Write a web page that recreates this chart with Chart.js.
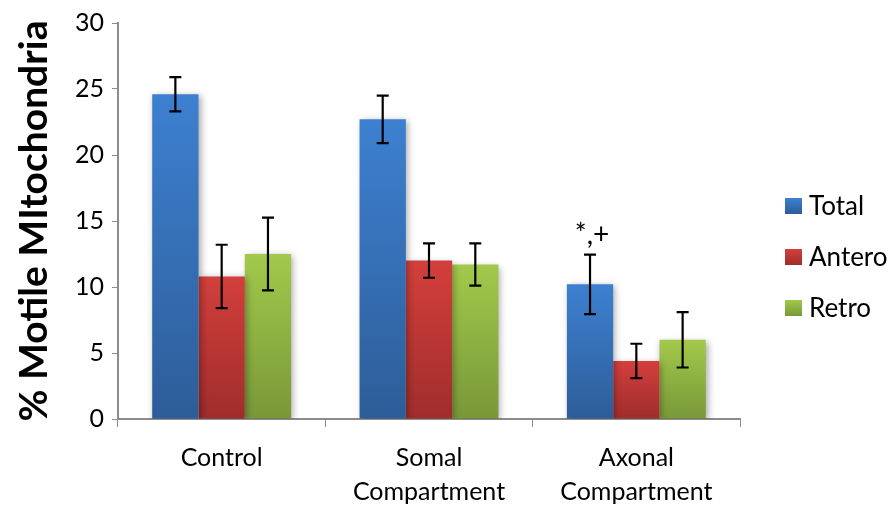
<!DOCTYPE html>
<html>
<head>
<meta charset="utf-8">
<script src="https://cdn.jsdelivr.net/npm/chart.js@4.4.1/dist/chart.umd.min.js"></script>
<style>
  html, body { margin: 0; padding: 0; background: #fff; }
  #wrap { width: 896px; height: 516px; position: relative; }
</style>
</head>
<body>
<div id="wrap"><canvas id="c"></canvas></div>
<script>
// Categories (multi-line tick labels)
const categories = [['Control'], ['Somal', 'Compartment'], ['Axonal', 'Compartment']];
const seriesNames = ['Total', 'Antero', 'Retro'];

// Mean percentage of motile mitochondria
const totalValues  = [24.6, 22.7, 10.2];
const anteroValues = [10.8, 12.0, 4.4];
const retroValues  = [12.5, 11.7, 6.0];

// Error bar half-widths
const totalErrors  = [1.3, 1.8, 2.25];
const anteroErrors = [2.4, 1.3, 1.3];
const retroErrors  = [2.75, 1.6, 2.1];

// Y axis ticks
const yTicks = [0, 5, 10, 15, 20, 25, 30];

// Significance mark over the axonal total bar
const markText = '*,+';
const markCategory = 2;
const markSeries = 0;

const FONT = 'Lato, "Open Sans", sans-serif';

// Gradient colours per series (top, bottom)
const palette = [
  ['#3d80d0', '#2d5d98'],
  ['#d33f3c', '#9f2d2b'],
  ['#a2c94b', '#789838']
];

function barGradient(ctx, seriesIdx) {
  const chart = ctx.chart;
  const area = chart.chartArea;
  const cols = palette[seriesIdx];
  if (!area || ctx.type !== 'data') return cols[0];
  const y = chart.scales.y;
  const top = y.getPixelForValue(ctx.raw);
  const bottom = y.getPixelForValue(0);
  const g = chart.ctx.createLinearGradient(0, top, 0, bottom);
  g.addColorStop(0, cols[0]);
  g.addColorStop(1, cols[1]);
  return g;
}

const errorSets = [totalErrors, anteroErrors, retroErrors];

// Soft drop shadow behind bars
const shadowPlugin = {
  id: 'barShadow',
  beforeDatasetsDraw(chart) {
    const c = chart.ctx;
    c.save();
    c.shadowColor = 'rgba(0,0,0,0.35)';
    c.shadowBlur = 7;
    c.shadowOffsetX = 2;
    c.shadowOffsetY = 2;
  },
  afterDatasetsDraw(chart) {
    chart.ctx.restore();
  }
};

// Error bars and the significance mark
const errorBarPlugin = {
  id: 'errorBars',
  afterDatasetsDraw(chart) {
    const c = chart.ctx;
    const y = chart.scales.y;
    c.save();
    c.strokeStyle = '#000';
    c.lineWidth = 2.2;
    chart.data.datasets.forEach((ds, di) => {
      const meta = chart.getDatasetMeta(di);
      meta.data.forEach((bar, i) => {
        const v = ds.data[i];
        const e = errorSets[di][i];
        const x = bar.x;
        const yHi = y.getPixelForValue(v + e);
        const yLo = y.getPixelForValue(v - e);
        const cap = 6;
        c.beginPath();
        c.moveTo(x, yHi); c.lineTo(x, yLo);
        c.moveTo(x - cap, yHi); c.lineTo(x + cap, yHi);
        c.moveTo(x - cap, yLo); c.lineTo(x + cap, yLo);
        c.stroke();
      });
    });
    // significance mark
    const bar = chart.getDatasetMeta(markSeries).data[markCategory];
    const topVal = chart.data.datasets[markSeries].data[markCategory] + errorSets[markSeries][markCategory];
    c.fillStyle = '#000';
    c.font = '28px ' + FONT;
    c.textAlign = 'center';
    c.textBaseline = 'bottom';
    c.fillText(markText, bar.x + 2, y.getPixelForValue(topVal) - 6);
    c.restore();
  }
};

// Legend on the right
const legendPlugin = {
  id: 'sideLegend',
  afterDraw(chart) {
    const c = chart.ctx;
    const x0 = 785;
    const yStart = 206;
    const step = 51;
    c.save();
    c.font = '26px ' + FONT;
    c.textBaseline = 'middle';
    c.textAlign = 'left';
    chart.data.datasets.forEach((ds, i) => {
      const cy = yStart + i * step;
      const g = c.createLinearGradient(0, cy - 8, 0, cy + 8);
      g.addColorStop(0, palette[i][0]);
      g.addColorStop(1, palette[i][1]);
      c.fillStyle = g;
      c.fillRect(x0, cy - 8, 17, 16);
      c.fillStyle = '#000';
      c.fillText(ds.label, x0 + 24, cy + 1);
    });
    c.restore();
  }
};

const seriesData = [totalValues, anteroValues, retroValues];

new Chart(document.getElementById('c'), {
  type: 'bar',
  data: {
    labels: categories,
    datasets: seriesData.map((d, i) => ({
      label: seriesNames[i],
      data: d,
      backgroundColor: (ctx) => barGradient(ctx, i),
      borderWidth: 0,
      categoryPercentage: 0.67,
      barPercentage: 1.0
    }))
  },
  options: {
    responsive: true,
    maintainAspectRatio: false,
    animation: false,
    devicePixelRatio: 1,
    layout: { padding: { top: 18, right: 156, left: 0, bottom: 0 } },
    plugins: {
      legend: { display: false },
      tooltip: { enabled: false }
    },
    scales: {
      x: {
        grid: {
          display: true,
          drawOnChartArea: false,
          drawTicks: true,
          tickLength: 8,
          color: '#8c8c8c',
          offset: true
        },
        border: { color: '#8c8c8c', width: 2 },
        ticks: {
          color: '#000',
          font: { family: FONT, size: 25, lineHeight: 1.36 },
          padding: 14,
          maxRotation: 0
        },
        afterFit(scale) { scale.height = 97; }
      },
      y: {
        min: 0,
        max: 30,
        afterBuildTicks(scale) { scale.ticks = yTicks.map(v => ({ value: v })); },
        grid: {
          display: true,
          drawOnChartArea: false,
          drawTicks: true,
          tickLength: 6,
          color: '#8c8c8c'
        },
        border: { color: '#8c8c8c', width: 2 },
        ticks: {
          color: '#000',
          font: { family: FONT, size: 25 },
          padding: 8
        },
        title: {
          display: true,
          text: '% Motile MItochondria',
          color: '#000',
          font: { family: FONT, size: 39, weight: 'bold' },
          padding: { top: 11, bottom: 0 }
        },
        afterFit(scale) { scale.width = 118; }
      }
    }
  },
  plugins: [shadowPlugin, errorBarPlugin, legendPlugin]
});
</script>
</body>
</html>
